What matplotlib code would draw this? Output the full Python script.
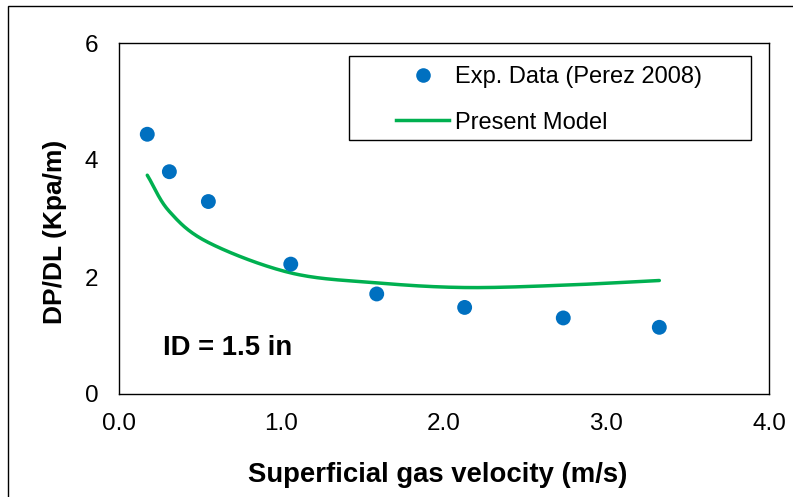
import numpy as np
import matplotlib
matplotlib.use("Agg")
import matplotlib.pyplot as plt
from matplotlib.patches import Rectangle
from matplotlib.lines import Line2D

plt.rcParams['font.family'] = ['Liberation Sans', 'DejaVu Sans']

# Measured pressure gradient (Perez 2008), ID = 1.5 in
vsg_exp = [0.174, 0.31, 0.55, 1.057, 1.586, 2.127, 2.734, 3.325]
dpdl_exp = [4.44, 3.80, 3.29, 2.22, 1.71, 1.48, 1.30, 1.14]

# Present model predictions at the same gas velocities
vsg_model = [0.174, 0.31, 0.55, 1.057, 1.586, 2.127, 2.734, 3.325]
dpdl_model = [3.74, 3.12, 2.59, 2.07, 1.90, 1.82, 1.86, 1.94]

x_ticks = [0.0, 1.0, 2.0, 3.0, 4.0]
x_ticklabels = ["0.0", "1.0", "2.0", "3.0", "4.0"]
y_ticks = [0, 2, 4, 6]

BLUE = "#0070C0"
GREEN = "#00B050"


def catmull_rom(xs, ys, n=30):
    """Smooth curve through the given points (spreadsheet-style smoothing)."""
    p = np.column_stack([xs, ys]).astype(float)
    p = np.vstack([2 * p[0] - p[1], p, 2 * p[-1] - p[-2]])
    out = []
    t = np.linspace(0, 1, n)[:, None]
    for i in range(1, len(p) - 2):
        p0, p1, p2, p3 = p[i - 1], p[i], p[i + 1], p[i + 2]
        seg = 0.5 * ((2 * p1) + (-p0 + p2) * t
                     + (2 * p0 - 5 * p1 + 4 * p2 - p3) * t ** 2
                     + (-p0 + 3 * p1 - 3 * p2 + p3) * t ** 3)
        out.append(seg if i == 1 else seg[1:])
    c = np.vstack(out)
    return c[:, 0], c[:, 1]


W, H = 793, 497
fig = plt.figure(figsize=(W / 100, H / 100), dpi=100)
ax = fig.add_axes([119 / W, 1 - 394 / H, 650 / W, 351 / H])


def fx(px):
    return px / W


def fy(py):
    return 1 - py / H


sx, sy = catmull_rom(vsg_model, dpdl_model)
ax.plot(sx, sy, color=GREEN, lw=2.5, solid_capstyle='round', zorder=2)
ax.scatter(vsg_exp, dpdl_exp, s=115, color=BLUE, edgecolors='none', zorder=3)

ax.set_xlim(0, 4)
ax.set_ylim(0, 6)
ax.set_xticks(x_ticks)
ax.set_xticklabels(x_ticklabels)
ax.set_yticks(y_ticks)
ax.tick_params(axis='both', length=0, labelsize=17.5, colors='black')
ax.tick_params(axis='x', pad=14)
ax.tick_params(axis='y', pad=15)
for s in ax.spines.values():
    s.set_linewidth(1.0)
    s.set_color('black')

# Axis titles
fig.text(fx(438), fy(482), "Superficial gas velocity (m/s)", fontsize=19.8,
         fontweight='bold', ha='center', va='baseline')
fig.text(fx(62), fy(232), "DP/DL (Kpa/m)", fontsize=19, fontweight='bold',
         rotation=90, rotation_mode='anchor', ha='center', va='baseline')

fig.text(fx(163), fy(355), "ID = 1.5 in", fontsize=19.8, fontweight='bold',
         ha='left', va='baseline')

# Legend
handles = [
    Line2D([], [], ls='none', marker='o', ms=10.5, color=BLUE, mec='none'),
    Line2D([], [], color=GREEN, lw=2.5),
]
labels = ["Exp. Data (Perez 2008)", "Present Model"]
leg = fig.legend(handles, labels, loc='center left',
                 bbox_to_anchor=(fx(396), fy(100)), frameon=False,
                 fontsize=17, handlelength=2.25, handletextpad=0.25,
                 labelspacing=0.98, borderpad=0, borderaxespad=0)
fig.patches.append(Rectangle((fx(349), fy(140)), 402 / W, 84 / H,
                             transform=fig.transFigure, fill=False,
                             edgecolor='black', lw=1.0))

# Outer chart border
fig.patches.append(Rectangle((fx(8), -0.2), 1.2, 1.2 - 6 / H,
                             transform=fig.transFigure, fill=False,
                             edgecolor='black', lw=1.0))

fig.savefig("out.png", dpi=100)
